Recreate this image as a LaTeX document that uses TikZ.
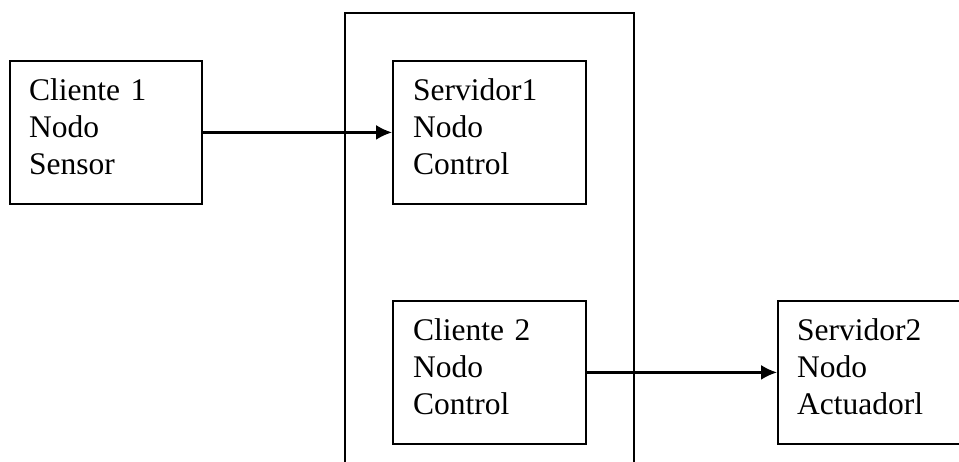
\documentclass[tikz,border=0pt]{standalone}
\usepackage{fontspec}
\setmainfont{Liberation Serif}
\usetikzlibrary{arrows.meta}
\begin{document}
\begin{tikzpicture}[x=1pt,y=-1pt,
  box/.style={draw, line width=1.8pt, anchor=north west, minimum height=143pt,
    inner sep=0pt},
  txt/.style={anchor=base west, inner sep=0pt, align=left, text width=170pt,
    font=\fontsize{31.5}{37}\selectfont},
  flow/.style={draw, line width=2.2pt, -{Latex[length=16pt,width=15pt]}}]
  \useasboundingbox (0,0) rectangle (959,461);
  \clip (0,0) rectangle (959,461);
  % outer frame around the control node
  \node[draw, line width=1.8pt, anchor=north west, minimum width=289pt,
        minimum height=520pt, inner sep=0pt] (frame) at (344,12) {};
  % boxes
  \node[box, minimum width=192pt] (c1) at (9,60) {};
  \node[box, minimum width=193pt] (s1) at (392,60) {};
  \node[box, minimum width=193pt] (c2) at (392,300) {};
  \node[box, minimum width=200pt] (s2) at (777,300) {};
  % labels, first baseline 40pt below the top edge
  \node[txt] (c1t) at ([shift={(20,40)}]c1.north west) {Cliente 1\\Nodo\\Sensor};
  \node[txt] (s1t) at ([shift={(21,40)}]s1.north west) {Servidor1\\Nodo\\Control};
  \node[txt] (c2t) at ([shift={(21,40)}]c2.north west) {Cliente 2\\Nodo\\Control};
  \node[txt] (s2t) at ([shift={(20,40)}]s2.north west) {Servidor2\\Nodo\\Actuadorl};
  % connectors
  \path[flow] (c1.east) -- (s1.west);
  \path[flow] (c2.east) -- (s2.west);
\end{tikzpicture}
\end{document}
